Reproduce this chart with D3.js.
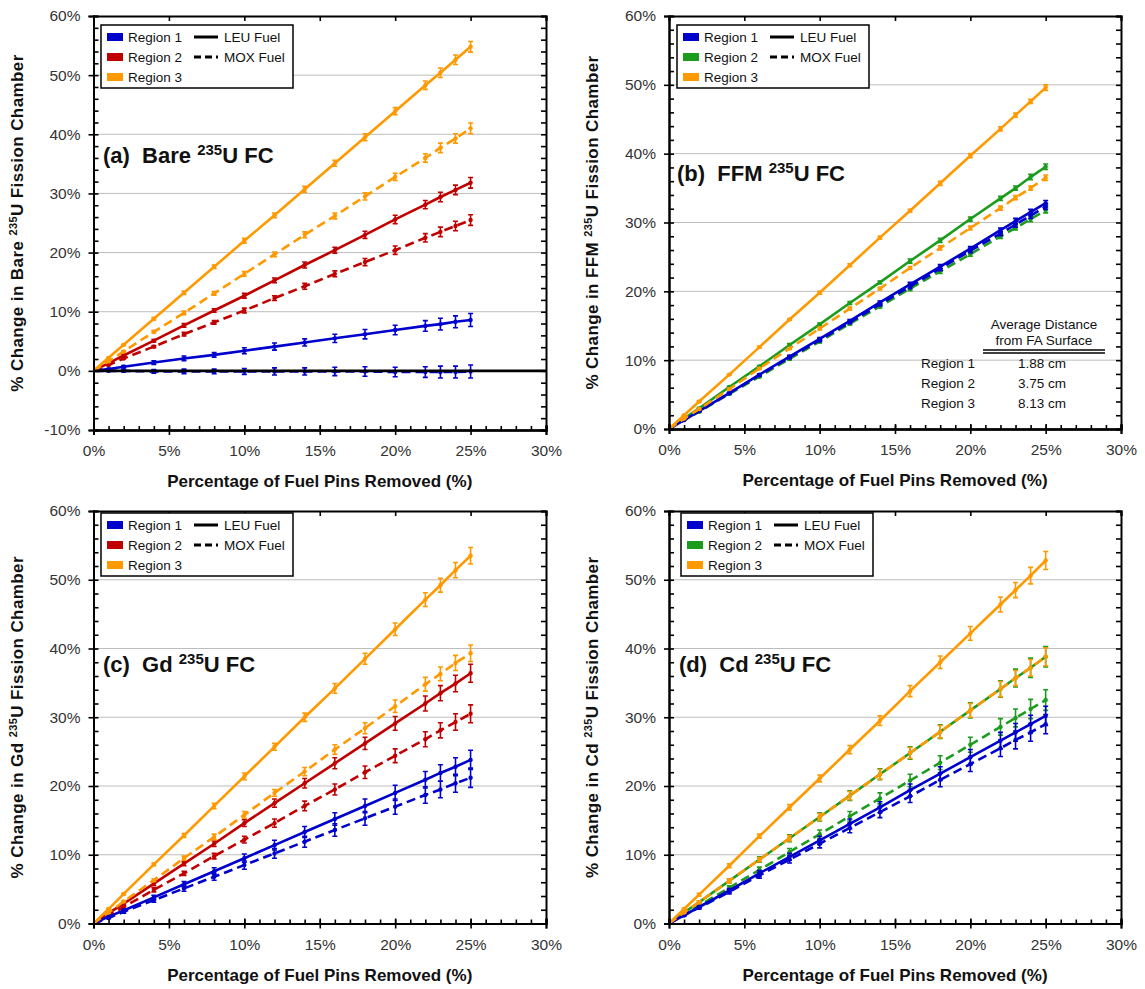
<!DOCTYPE html>
<html>
<head>
<meta charset="utf-8">
<script src="https://cdn.jsdelivr.net/npm/d3@7"></script>
<style>
  body { margin: 0; background: #fff; }
  text { font-family: "Liberation Sans", Arial, sans-serif; }
</style>
</head>
<body>
<svg id="chart" width="1145" height="989"></svg>
<script>
// x positions (percentage of fuel pins removed)
var pinsRemoved = [0, 1, 2, 4, 6, 8, 10, 12, 14, 16, 18, 20, 22, 23, 24, 25];
var xTicks = [0, 5, 10, 15, 20, 25, 30];

// (a) Bare 235U FC
var bareR1LEU = [0, 0.3, 0.7, 1.4, 2.1, 2.7, 3.4, 4.1, 4.8, 5.5, 6.2, 6.9, 7.6, 7.9, 8.3, 8.6];
var bareR1MOX = [0, 0, 0, -0.1, -0.1, -0.1, -0.1, -0.1, -0.1, -0.1, -0.1, -0.2, -0.2, -0.2, -0.2, -0.1];
var bareR2LEU = [0, 1.3, 2.6, 5.1, 7.7, 10.2, 12.7, 15.3, 17.9, 20.4, 23.0, 25.6, 28.1, 29.4, 30.6, 31.8];
var bareR2MOX = [0, 1.0, 2.1, 4.1, 6.2, 8.2, 10.2, 12.3, 14.3, 16.4, 18.4, 20.4, 22.5, 23.5, 24.5, 25.5];
var bareR3LEU = [0, 2.2, 4.4, 8.8, 13.2, 17.6, 22.0, 26.3, 30.7, 35.1, 39.5, 43.9, 48.3, 50.4, 52.6, 54.8];
var bareR3MOX = [0, 1.6, 3.3, 6.6, 9.8, 13.1, 16.4, 19.7, 23.0, 26.2, 29.5, 32.8, 36.0, 37.7, 39.3, 41.0];
var bareErrR1 = [0, 0.1, 0.2, 0.3, 0.4, 0.4, 0.5, 0.6, 0.6, 0.7, 0.8, 0.8, 0.9, 1.0, 1.0, 1.1];
var bareErrR2 = [0, 0.1, 0.1, 0.2, 0.3, 0.3, 0.4, 0.4, 0.5, 0.5, 0.6, 0.7, 0.7, 0.8, 0.8, 0.9];
var bareErrR3 = [0, 0.1, 0.1, 0.2, 0.3, 0.3, 0.4, 0.4, 0.5, 0.5, 0.6, 0.6, 0.7, 0.8, 0.8, 0.9];

// (b) FFM 235U FC
var ffmR1LEU = [0, 1.3, 2.6, 5.2, 7.9, 10.5, 13.1, 15.7, 18.4, 21.0, 23.6, 26.2, 28.9, 30.2, 31.5, 32.8];
var ffmR1MOX = [0, 1.3, 2.6, 5.2, 7.8, 10.4, 12.9, 15.5, 18.1, 20.7, 23.3, 25.9, 28.4, 29.7, 31.0, 32.3];
var ffmR2LEU = [0, 1.5, 3.0, 6.1, 9.1, 12.2, 15.2, 18.3, 21.3, 24.4, 27.4, 30.5, 33.5, 35.0, 36.6, 38.1];
var ffmR2MOX = [0, 1.3, 2.5, 5.1, 7.6, 10.2, 12.7, 15.3, 17.8, 20.4, 22.9, 25.4, 28.0, 29.2, 30.5, 31.8];
var ffmR3LEU = [0, 2.0, 4.0, 7.9, 11.9, 15.9, 19.8, 23.8, 27.8, 31.7, 35.7, 39.7, 43.6, 45.6, 47.6, 49.6];
var ffmR3MOX = [0, 1.5, 2.9, 5.8, 8.8, 11.7, 14.6, 17.5, 20.4, 23.4, 26.3, 29.2, 32.1, 33.6, 35.0, 36.5];
var ffmErrR1 = [0, 0, 0.1, 0.1, 0.1, 0.2, 0.2, 0.2, 0.2, 0.3, 0.3, 0.3, 0.3, 0.4, 0.4, 0.4];
var ffmErrR2 = [0, 0, 0.1, 0.1, 0.1, 0.2, 0.2, 0.2, 0.2, 0.3, 0.3, 0.3, 0.3, 0.3, 0.4, 0.4];
var ffmErrR3 = [0, 0, 0.1, 0.1, 0.1, 0.1, 0.2, 0.2, 0.2, 0.2, 0.3, 0.3, 0.3, 0.3, 0.3, 0.4];

// (c) Gd 235U FC
var gdR1LEU = [0, 1.0, 1.9, 3.8, 5.7, 7.6, 9.5, 11.4, 13.3, 15.2, 17.1, 19.0, 20.9, 21.9, 22.8, 23.8];
var gdR1MOX = [0, 0.8, 1.7, 3.4, 5.1, 6.8, 8.5, 10.2, 11.9, 13.6, 15.3, 17.0, 18.7, 19.5, 20.4, 21.2];
var gdR2LEU = [0, 1.5, 2.9, 5.8, 8.7, 11.6, 14.6, 17.5, 20.4, 23.3, 26.2, 29.1, 32.0, 33.5, 34.9, 36.4];
var gdR2MOX = [0, 1.2, 2.4, 4.9, 7.3, 9.8, 12.2, 14.6, 17.1, 19.5, 22.0, 24.4, 26.8, 28.1, 29.3, 30.5];
var gdR3LEU = [0, 2.1, 4.3, 8.6, 12.8, 17.1, 21.4, 25.7, 30.0, 34.2, 38.5, 42.8, 47.1, 49.2, 51.4, 53.5];
var gdR3MOX = [0, 1.6, 3.2, 6.3, 9.5, 12.6, 15.8, 19.0, 22.1, 25.3, 28.4, 31.6, 34.8, 36.3, 37.9, 39.3];
var gdErrR1 = [0, 0.1, 0.2, 0.3, 0.4, 0.5, 0.6, 0.7, 0.8, 0.9, 1.0, 1.1, 1.2, 1.2, 1.3, 1.4];
var gdErrR2 = [0, 0.1, 0.2, 0.3, 0.3, 0.4, 0.5, 0.6, 0.7, 0.8, 0.9, 1.0, 1.1, 1.1, 1.2, 1.3];
var gdErrR3 = [0, 0.1, 0.1, 0.2, 0.3, 0.4, 0.5, 0.5, 0.6, 0.7, 0.8, 0.9, 1.0, 1.0, 1.1, 1.2];

// (d) Cd 235U FC
var cdR1LEU = [0, 1.2, 2.4, 4.8, 7.3, 9.7, 12.1, 14.5, 16.9, 19.4, 21.8, 24.2, 26.6, 27.8, 29.0, 30.2];
var cdR1MOX = [0, 1.2, 2.3, 4.6, 7.0, 9.3, 11.6, 13.9, 16.2, 18.5, 20.9, 23.2, 25.5, 26.7, 27.8, 29.0];
var cdR2LEU = [0, 1.6, 3.1, 6.2, 9.3, 12.4, 15.5, 18.6, 21.7, 24.8, 27.9, 31.0, 34.1, 35.7, 37.2, 38.8];
var cdR2MOX = [0, 1.3, 2.6, 5.2, 7.8, 10.4, 13.0, 15.6, 18.2, 20.8, 23.4, 26.0, 28.6, 29.9, 31.2, 32.5];
var cdR3LEU = [0, 2.1, 4.2, 8.4, 12.7, 16.9, 21.1, 25.3, 29.5, 33.8, 38.0, 42.2, 46.4, 48.5, 50.6, 52.8];
var cdR3MOX = [0, 1.6, 3.1, 6.2, 9.3, 12.4, 15.5, 18.6, 21.7, 24.8, 27.9, 31.0, 34.1, 35.7, 37.2, 38.8];
var cdErrR1 = [0, 0.1, 0.2, 0.3, 0.4, 0.5, 0.6, 0.7, 0.8, 0.9, 1.0, 1.1, 1.2, 1.3, 1.3, 1.4];
var cdErrR2 = [0, 0.1, 0.2, 0.3, 0.4, 0.5, 0.6, 0.7, 0.8, 0.9, 1.0, 1.1, 1.2, 1.3, 1.4, 1.5];
var cdErrR3 = [0, 0.1, 0.2, 0.3, 0.3, 0.4, 0.5, 0.6, 0.7, 0.8, 0.9, 1.0, 1.1, 1.1, 1.2, 1.3];

// table in panel (b)
var tableRegions = ["Region 1", "Region 2", "Region 3"];
var tableDistances = ["1.88 cm", "3.75 cm", "8.13 cm"];

var blue = "#0000cc", red = "#c00000", orange = "#ff9900", green = "#1c9c1c";

var panels = [
  {tag: "(a)", name: "Bare", left: 93.5, right: 546, top: 16, bottom: 430, ymin: -10, r2: red,
   labelX: 103, labelY: 163, legX: 101, legY: 25,
   series: [[bareR2MOX, bareErrR2, 2, true], [bareR2LEU, bareErrR2, 2, false], [bareR1MOX, bareErrR1, 1, true],
            [bareR1LEU, bareErrR1, 1, false], [bareR3MOX, bareErrR3, 3, true], [bareR3LEU, bareErrR3, 3, false]]},
  {tag: "(b)", name: "FFM", left: 669, right: 1121, top: 16, bottom: 429, ymin: 0, r2: green,
   labelX: 677, labelY: 181, legX: 677, legY: 25,
   series: [[ffmR2MOX, ffmErrR2, 2, true], [ffmR2LEU, ffmErrR2, 2, false], [ffmR1MOX, ffmErrR1, 1, true],
            [ffmR1LEU, ffmErrR1, 1, false], [ffmR3MOX, ffmErrR3, 3, true], [ffmR3LEU, ffmErrR3, 3, false]]},
  {tag: "(c)", name: "Gd", left: 93.5, right: 546, top: 511, bottom: 923.5, ymin: 0, r2: red,
   labelX: 103, labelY: 672, legX: 101, legY: 513,
   series: [[gdR2MOX, gdErrR2, 2, true], [gdR2LEU, gdErrR2, 2, false], [gdR1MOX, gdErrR1, 1, true],
            [gdR1LEU, gdErrR1, 1, false], [gdR3MOX, gdErrR3, 3, true], [gdR3LEU, gdErrR3, 3, false]]},
  {tag: "(d)", name: "Cd", left: 669, right: 1121, top: 511, bottom: 923.5, ymin: 0, r2: green,
   labelX: 679, labelY: 672, legX: 681, legY: 513,
   series: [[cdR2MOX, cdErrR2, 2, true], [cdR2LEU, cdErrR2, 2, false], [cdR1MOX, cdErrR1, 1, true],
            [cdR1LEU, cdErrR1, 1, false], [cdR3MOX, cdErrR3, 3, true], [cdR3LEU, cdErrR3, 3, false]]}
];

var svg = d3.select("#chart");

function addSup(sel, before, after, big, small, shift) {
  sel.append("tspan").text(before);
  sel.append("tspan").attr("dy", -shift).style("font-size", small + "px").text("235");
  sel.append("tspan").attr("dy", shift).style("font-size", big + "px").text(after);
}

panels.forEach(function(p) {
  var x = d3.scaleLinear().domain([0, 30]).range([p.left, p.right]);
  var y = d3.scaleLinear().domain([p.ymin, 60]).range([p.bottom, p.top]);
  var yTicks = d3.range(p.ymin, 61, 10);
  var colorOf = {1: blue, 2: p.r2, 3: orange};
  var g = svg.append("g");

  // gridlines
  g.selectAll(".grid").data(yTicks.filter(function(v) { return v > p.ymin && v < 60; }))
    .enter().append("line")
    .attr("x1", p.left).attr("x2", p.right)
    .attr("y1", d => y(d)).attr("y2", d => y(d))
    .attr("stroke", "#bdbdbd").attr("stroke-width", 1);

  // series
  var line = d3.line().x((d, i) => x(pinsRemoved[i])).y(d => y(d));
  p.series.forEach(function(s) {
    var vals = s[0], err = s[1], c = colorOf[s[2]];
    var sg = g.append("g");
    sg.append("path").datum(vals).attr("d", line)
      .attr("fill", "none").attr("stroke", c).attr("stroke-width", 2.6)
      .attr("stroke-dasharray", s[3] ? "9,5" : null);
    var pts = vals.map((v, i) => ({x: pinsRemoved[i], v: v, e: err[i]})).filter(d => d.x > 0);
    sg.selectAll(".eb").data(pts).enter().append("path")
      .attr("d", d => {
        var cx = x(d.x), y1 = y(d.v + d.e), y2 = y(d.v - d.e);
        return "M" + (cx - 2.5) + "," + y1 + "H" + (cx + 2.5) + "M" + cx + "," + y1 + "V" + y2 +
               "M" + (cx - 2.5) + "," + y2 + "H" + (cx + 2.5);
      })
      .attr("stroke", c).attr("stroke-width", 1.6).attr("fill", "none");
    sg.selectAll(".mk").data(pts).enter().append("circle")
      .attr("cx", d => x(d.x)).attr("cy", d => y(d.v)).attr("r", 2.2).attr("fill", c);
  });

  if (p.ymin < 0) {
    g.append("line").attr("x1", x(0)).attr("x2", x(30)).attr("y1", y(0)).attr("y2", y(0))
      .attr("stroke", "#000").attr("stroke-width", 2.6);
  }

  // axes: ticks crossing the frame, minor ticks inside
  var minorX = d3.range(0, 31, 1), minorY = d3.range(p.ymin, 61, 2);
  function styleAx(a) {
    a.select(".domain").attr("stroke", "#000").attr("stroke-width", 2);
    a.selectAll(".tick line").attr("stroke", "#000").attr("stroke-width", 1.6);
    a.selectAll("text").attr("fill", "#333").style("font-size", "15.5px")
      .style("font-family", "'Liberation Sans', Arial, sans-serif");
  }
  var bx = g.append("g").attr("transform", "translate(0," + p.bottom + ")")
    .call(d3.axisBottom(x).tickValues(xTicks).tickSize(5).tickPadding(10).tickFormat(d => d + "%"));
  styleAx(bx);
  g.append("g").attr("transform", "translate(0," + p.bottom + ")")
    .call(d3.axisTop(x).tickValues(xTicks).tickSize(5).tickFormat("")).call(styleAx);
  g.append("g").attr("transform", "translate(0," + p.bottom + ")")
    .call(d3.axisTop(x).tickValues(minorX).tickSize(4).tickFormat("")).call(styleAx);
  g.append("g").attr("transform", "translate(0," + p.top + ")")
    .call(d3.axisBottom(x).tickValues(xTicks).tickSize(5).tickFormat("")).call(styleAx);

  var ly = g.append("g").attr("transform", "translate(" + p.left + ",0)")
    .call(d3.axisLeft(y).tickValues(yTicks).tickSize(5).tickPadding(8).tickFormat(d => d + "%"));
  styleAx(ly);
  g.append("g").attr("transform", "translate(" + p.left + ",0)")
    .call(d3.axisRight(y).tickValues(minorY).tickSize(5).tickFormat("")).call(styleAx);
  g.append("g").attr("transform", "translate(" + p.right + ",0)")
    .call(d3.axisLeft(y).tickValues(minorY).tickSize(5).tickFormat("")).call(styleAx);

  // axis titles
  g.append("text").attr("x", (p.left + p.right) / 2).attr("y", p.bottom + 57)
    .attr("text-anchor", "middle").style("font-size", "17px").style("font-weight", "bold")
    .attr("fill", "#111").text("Percentage of Fuel Pins Removed (%)");
  var yt = g.append("text")
    .attr("transform", "translate(" + (p.left - 71) + "," + ((p.top + p.bottom) / 2) + ") rotate(-90)")
    .attr("text-anchor", "middle").style("font-size", "17px").style("font-weight", "bold")
    .style("letter-spacing", "0.4px").attr("fill", "#111");
  addSup(yt, "% Change in " + p.name + " ", "U Fission Chamber", 17, 11, 6);

  // panel label
  var pl = g.append("text").attr("x", p.labelX).attr("y", p.labelY)
    .style("font-size", "22px").style("font-weight", "bold").attr("fill", "#111");
  addSup(pl, p.tag + "\u00a0\u00a0" + p.name + " ", "U FC", 22, 15, 8);

  // legend
  var lg = g.append("g").attr("transform", "translate(" + p.legX + "," + p.legY + ")");
  lg.append("rect").attr("width", 192).attr("height", 63).attr("fill", "#fff")
    .attr("stroke", "#000").attr("stroke-width", 1.5);
  [1, 2, 3].forEach(function(r, i) {
    lg.append("rect").attr("x", 6).attr("y", 8 + i * 20).attr("width", 16).attr("height", 8).attr("fill", colorOf[r]);
    lg.append("text").attr("x", 27).attr("y", 17 + i * 20).style("font-size", "13.5px").attr("fill", "#111")
      .text("Region " + r);
  });
  ["LEU Fuel", "MOX Fuel"].forEach(function(f, i) {
    lg.append("line").attr("x1", 93).attr("x2", 117).attr("y1", 12 + i * 20).attr("y2", 12 + i * 20)
      .attr("stroke", "#000").attr("stroke-width", 3).attr("stroke-dasharray", i ? "7,4" : null);
    lg.append("text").attr("x", 123).attr("y", 17 + i * 20).style("font-size", "13.5px").attr("fill", "#111").text(f);
  });

  // distance table in panel (b)
  if (p.name === "FFM") {
    var tg = g.append("g").style("font-size", "13.5px").attr("fill", "#111");
    tg.append("rect").attr("x", 982).attr("y", 314).attr("width", 128).attr("height", 34).attr("fill", "#fff");
    tg.append("text").attr("x", 1044).attr("y", 329).attr("text-anchor", "middle").text("Average Distance");
    tg.append("text").attr("x", 1044).attr("y", 345).attr("text-anchor", "middle").text("from FA Surface");
    tg.append("line").attr("x1", 983).attr("x2", 1105).attr("y1", 350).attr("y2", 350).attr("stroke", "#000").attr("stroke-width", 1.5);
    tg.append("line").attr("x1", 983).attr("x2", 1105).attr("y1", 353).attr("y2", 353).attr("stroke", "#000").attr("stroke-width", 1.5);
    tableRegions.forEach(function(r, i) {
      tg.append("text").attr("x", 921).attr("y", 368 + i * 20).text(r);
      tg.append("text").attr("x", 1042).attr("y", 368 + i * 20).attr("text-anchor", "middle").text(tableDistances[i]);
    });
  }
});
</script>
</body>
</html>
